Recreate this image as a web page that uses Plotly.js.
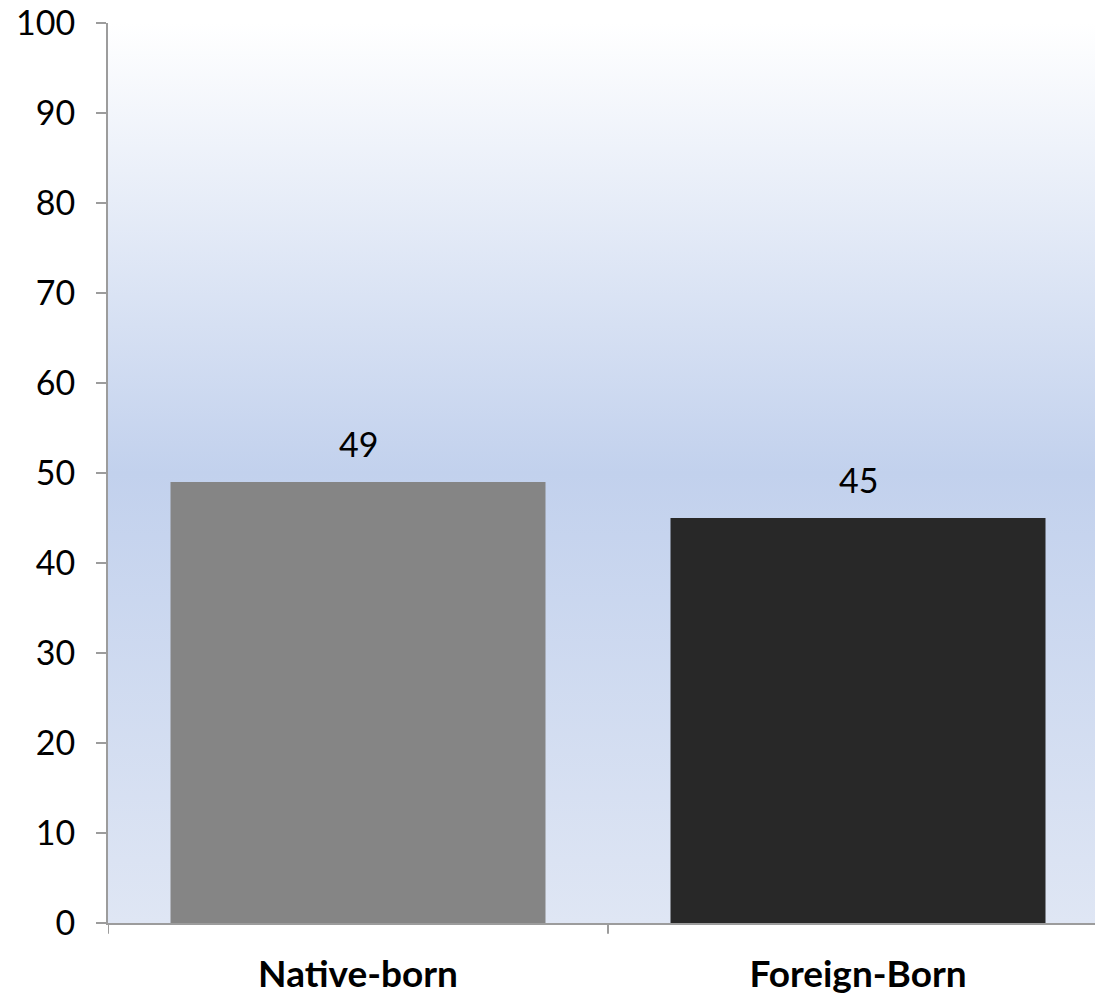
<!DOCTYPE html>
<html>
<head>
<meta charset="utf-8">
<script src="https://cdn.plot.ly/plotly-3.0.1.min.js"></script>
<style>html,body{margin:0;padding:0;background:#fff;overflow:hidden}#chart{width:1095px;height:994px}</style>
</head>
<body>
<div id="chart"></div>
<script>
var categories = ['Native-born', 'Foreign-Born'];
var values = [49, 45];
var barColors = ['#858585', '#282828'];
var yTicks = [0, 10, 20, 30, 40, 50, 60, 70, 80, 90, 100];

var FONT = 'Lato, "DejaVu Sans", sans-serif';

var gradSvg = '<svg xmlns="http://www.w3.org/2000/svg" width="100" height="100" preserveAspectRatio="none">' +
  '<defs><linearGradient id="g" x1="0" y1="0" x2="0" y2="1">' +
  '<stop offset="0" stop-color="#ffffff"/>' +
  '<stop offset="0.5" stop-color="#c2d1ed"/>' +
  '<stop offset="1" stop-color="#dfe6f4"/>' +
  '</linearGradient></defs><rect width="100" height="100" fill="url(#g)"/></svg>';
var gradUri = 'data:image/svg+xml;base64,' + btoa(gradSvg);

var trace = {
  type: 'bar',
  x: categories,
  y: values,
  width: 0.75,
  marker: {color: barColors},
  hoverinfo: 'none'
};

var annotations = categories.map(function (c, i) {
  return {
    x: c, y: values[i], xref: 'x', yref: 'y',
    text: String(values[i]),
    showarrow: false,
    yanchor: 'bottom',
    yshift: 16,
    font: {family: FONT, size: 34, color: '#000'}
  };
});

var layout = {
  width: 1095,
  height: 994,
  margin: {l: 108, r: 0, t: 23, b: 71},
  paper_bgcolor: '#ffffff',
  plot_bgcolor: 'rgba(0,0,0,0)',
  showlegend: false,
  bargap: 0.25,
  font: {family: FONT, color: '#000'},
  xaxis: {
    range: [-0.5, 1.474],
    showline: true,
    linecolor: '#9c9c9c',
    linewidth: 2,
    ticks: '',
    showgrid: false,
    zeroline: false,
    tickfont: {family: FONT, size: 37, color: '#000', weight: 'bold'},
    ticklabelstandoff: 18
  },
  yaxis: {
    range: [0, 100],
    tickvals: yTicks,
    ticktext: yTicks.map(String),
    showline: true,
    linecolor: '#9c9c9c',
    linewidth: 2,
    ticks: 'outside',
    ticklen: 10,
    tickwidth: 2,
    tickcolor: '#9c9c9c',
    showgrid: false,
    zeroline: false,
    tickfont: {family: FONT, size: 34, color: '#000'},
    ticklabelstandoff: 14
  },
  annotations: annotations,
  images: [{
    source: gradUri,
    xref: 'paper', yref: 'paper',
    x: 0, y: 1, sizex: 1, sizey: 1,
    sizing: 'stretch',
    xanchor: 'left', yanchor: 'top',
    layer: 'below'
  }],
  shapes: [
    {type: 'line', xref: 'x', yref: 'paper', x0: -0.5, x1: -0.5, y0: 0, y1: -0.012, line: {color: '#9c9c9c', width: 2}},
    {type: 'line', xref: 'x', yref: 'paper', x0: 0.5, x1: 0.5, y0: 0, y1: -0.012, line: {color: '#9c9c9c', width: 2}}
  ]
};

Plotly.newPlot('chart', [trace], layout, {displayModeBar: false, staticPlot: true});
</script>
</body>
</html>
